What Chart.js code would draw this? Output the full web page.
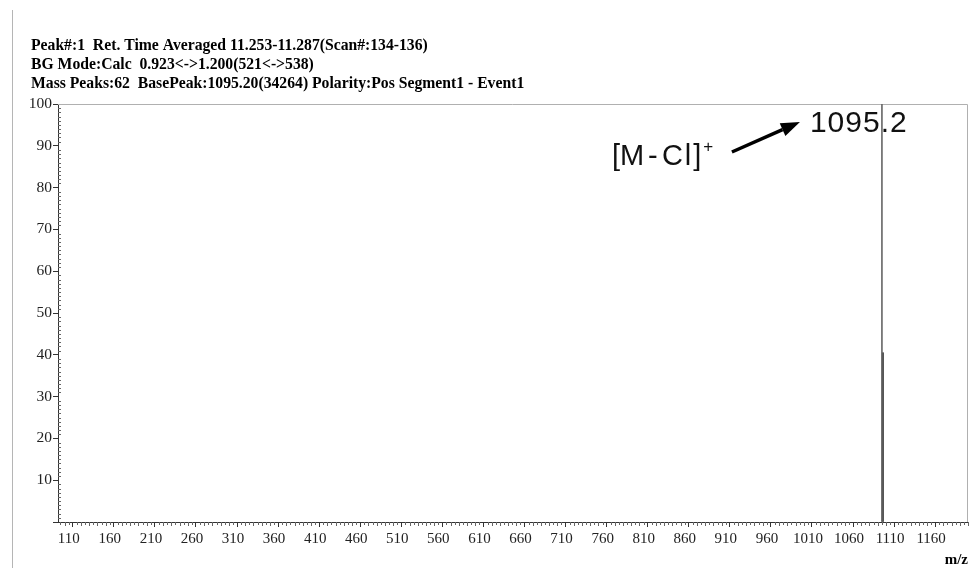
<!DOCTYPE html>
<html>
<head>
<meta charset="utf-8">
<script src="https://cdn.jsdelivr.net/npm/chart.js@4.4.1/dist/chart.umd.min.js"></script>
<style>
html,body{margin:0;padding:0;background:#fff}
#wrap{width:971px;height:568px}
</style>
</head>
<body>
<div id="wrap"><canvas id="spectrum" width="971" height="568"></canvas></div>
<script>
// header text from the instrument report
const headerLines = [
  "Peak#:1  Ret. Time Averaged 11.253-11.287(Scan#:134-136)",
  "BG Mode:Calc  0.923<->1.200(521<->538)",
  "Mass Peaks:62  BasePeak:1095.20(34264) Polarity:Pos Segment1 - Event1"
];

// peaks (m/z, relative intensity %)
const mainMz = [1095.2];
const mainInt = [100];
const isoMz = [1096.2];
const isoInt = [40.5];

const xTicks = [110,160,210,260,310,360,410,460,510,560,610,660,710,760,810,860,910,960,1010,1060,1110,1160];
const xMin = 92, xMax = 1200;
const yMin = 0, yMax = 100;

const peakLabel = "1095.2";

const serif = "'Liberation Serif','Times New Roman',serif";
const sans = "'Liberation Sans',Arial,sans-serif";

const extras = {
  id: 'extras',
  beforeDatasetsDraw(chart) {
    const c = chart.ctx, a = chart.chartArea;
    c.save();
    // page edge line on the left
    c.strokeStyle = '#b5b5b5';
    c.lineWidth = 1;
    c.beginPath();
    c.moveTo(12.5, 10); c.lineTo(12.5, 568);
    c.stroke();
    // top and right frame
    c.strokeStyle = '#b0b0b0';
    c.beginPath();
    c.moveTo(a.left, a.top + 0.5); c.lineTo(a.right - 0.5, a.top + 0.5); c.lineTo(a.right - 0.5, a.bottom);
    c.stroke();
    c.restore();
  },
  afterDraw(chart) {
    const c = chart.ctx, a = chart.chartArea;
    const xs = chart.scales.x, ys = chart.scales.y;
    c.save();
    // minor ticks
    c.strokeStyle = '#666';
    c.lineWidth = 1;
    c.beginPath();
    for (let v = 1; v < 100; v++) {
      if (v % 10 === 0) continue;
      const py = Math.round(ys.getPixelForValue(v)) + 0.5;
      c.moveTo(a.left, py); c.lineTo(a.left + 3, py);
    }
    for (let v = 95; v <= 1200; v += 5) {
      if (xTicks.includes(v)) continue;
      const px = Math.round(xs.getPixelForValue(v)) + 0.5;
      c.moveTo(px, a.bottom); c.lineTo(px, a.bottom + (v % 10 === 0 ? 4 : 3));
    }
    c.stroke();

    // header
    c.fillStyle = '#000';
    c.font = 'bold 15.7px ' + serif;
    c.textBaseline = 'middle';
    headerLines.forEach((t, i) => c.fillText(t, 31, 46 + i * 19));

    // m/z
    c.font = 'bold 15px ' + serif;
    c.textAlign = 'right';
    c.fillText('m/z', a.right, 560);
    c.textAlign = 'left';

    // annotation
    const px = xs.getPixelForValue(mainMz[0]);
    const top = ys.getPixelForValue(yMax);
    c.fillStyle = '#111';
    c.font = '30px ' + sans;
    c.letterSpacing = '1px';
    c.fillText(peakLabel, px - 72, top + 20);
    c.letterSpacing = '0px';
    c.font = '29px ' + sans;
    c.fillText('[M', px - 270, top + 53);
    c.fillText('-', px - 234, top + 53);
    c.letterSpacing = '2px';
    c.fillText('Cl]', px - 220, top + 53);
    const w = c.measureText('Cl]').width;
    c.letterSpacing = '0px';
    c.font = '17px ' + sans;
    c.fillText('+', px - 220 + w, top + 43);

    // arrow
    const x1 = px - 150, y1 = top + 48, x2 = px - 82, y2 = top + 18;
    const ang = Math.atan2(y2 - y1, x2 - x1);
    const hl = 19, hw = 7;
    const bx = x2 - hl * Math.cos(ang), by = y2 - hl * Math.sin(ang);
    c.strokeStyle = '#000';
    c.fillStyle = '#000';
    c.lineWidth = 3.5;
    c.beginPath();
    c.moveTo(x1, y1); c.lineTo(bx, by);
    c.stroke();
    c.beginPath();
    c.moveTo(x2, y2);
    c.lineTo(bx + hw * Math.sin(ang), by - hw * Math.cos(ang));
    c.lineTo(bx - hw * Math.sin(ang), by + hw * Math.cos(ang));
    c.closePath();
    c.fill();
    c.restore();
  }
};

new Chart(document.getElementById('spectrum'), {
  type: 'bar',
  data: {
    datasets: [
      {
        data: mainMz.map((x, i) => ({ x: x, y: mainInt[i] })),
        backgroundColor: '#6a6a6a',
        barThickness: 1
      },
      {
        data: isoMz.map((x, i) => ({ x: x, y: isoInt[i] })),
        backgroundColor: '#333',
        barThickness: 1.5
      }
    ]
  },
  options: {
    responsive: false,
    animation: false,
    grouped: false,
    layout: { padding: { top: 104, right: 3, left: 0, bottom: 0 } },
    plugins: { legend: { display: false }, tooltip: { enabled: false } },
    scales: {
      x: {
        type: 'linear',
        min: xMin,
        max: xMax,
        offset: false,
        grid: { offset: false, drawOnChartArea: false, drawTicks: true, tickLength: 5, color: '#333' },
        border: { display: true, color: '#333', width: 1 },
        afterBuildTicks: axis => { axis.ticks = xTicks.map(v => ({ value: v })); },
        afterFit: s => { s.height = 46; },
        ticks: {
          autoSkip: false, maxRotation: 0, minRotation: 0,
          labelOffset: -4, padding: 3,
          color: '#222', font: { family: serif, size: 15 },
          callback: v => String(v)
        }
      },
      y: {
        min: yMin,
        max: yMax,
        grid: { drawOnChartArea: false, drawTicks: true, tickLength: 5, color: '#333' },
        border: { display: true, color: '#333', width: 1 },
        afterFit: s => { s.width = 58; },
        ticks: {
          stepSize: 10, padding: 1,
          color: '#222', font: { family: serif, size: 15.5 },
          callback: v => v === 0 ? '' : String(v)
        }
      }
    }
  },
  plugins: [extras]
});
</script>
</body>
</html>
